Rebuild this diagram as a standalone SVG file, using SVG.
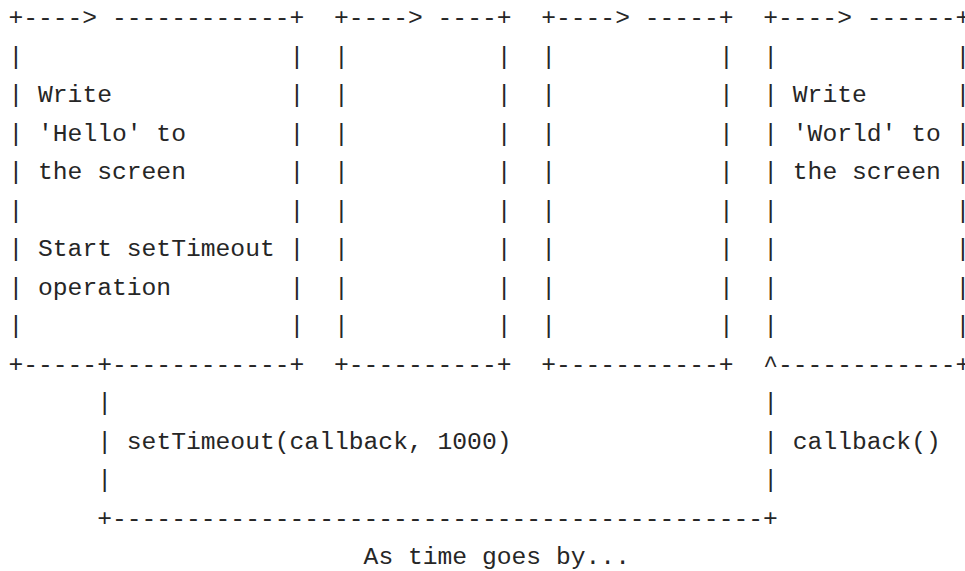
<svg xmlns="http://www.w3.org/2000/svg" width="965" height="571" viewBox="0 0 965 571">
<style>
  .t { font-family: "Liberation Mono", "Cousine", monospace; font-size: 24.66px; fill: #262626; white-space: pre; }
</style>
<rect width="965" height="571" fill="#ffffff"/>
<g id="box-hello">
  <text class="t">
    <tspan x="8.4" y="25">+----&gt; ------------+</tspan>
    <tspan x="8.4" y="63.5">|</tspan><tspan x="289.6" y="63.5">|</tspan>
    <tspan x="8.4" y="102">|</tspan><tspan x="38" y="102">Write</tspan><tspan x="289.6" y="102">|</tspan>
    <tspan x="8.4" y="140.5">|</tspan><tspan x="38" y="140.5">'Hello' to</tspan><tspan x="289.6" y="140.5">|</tspan>
    <tspan x="8.4" y="179">|</tspan><tspan x="38" y="179">the screen</tspan><tspan x="289.6" y="179">|</tspan>
    <tspan x="8.4" y="217.5">|</tspan><tspan x="289.6" y="217.5">|</tspan>
    <tspan x="8.4" y="256">|</tspan><tspan x="38" y="256">Start setTimeout</tspan><tspan x="289.6" y="256">|</tspan>
    <tspan x="8.4" y="294.5">|</tspan><tspan x="38" y="294.5">operation</tspan><tspan x="289.6" y="294.5">|</tspan>
    <tspan x="8.4" y="333">|</tspan><tspan x="289.6" y="333">|</tspan>
    <tspan x="8.4" y="371.5">+-----+------------+</tspan>
  </text>
</g>
<g id="box-empty-1">
  <text class="t">
    <tspan x="334" y="25">+----&gt; ----+</tspan>
    <tspan x="334" y="63.5">|</tspan><tspan x="496.8" y="63.5">|</tspan>
    <tspan x="334" y="102">|</tspan><tspan x="496.8" y="102">|</tspan>
    <tspan x="334" y="140.5">|</tspan><tspan x="496.8" y="140.5">|</tspan>
    <tspan x="334" y="179">|</tspan><tspan x="496.8" y="179">|</tspan>
    <tspan x="334" y="217.5">|</tspan><tspan x="496.8" y="217.5">|</tspan>
    <tspan x="334" y="256">|</tspan><tspan x="496.8" y="256">|</tspan>
    <tspan x="334" y="294.5">|</tspan><tspan x="496.8" y="294.5">|</tspan>
    <tspan x="334" y="333">|</tspan><tspan x="496.8" y="333">|</tspan>
    <tspan x="334" y="371.5">+----------+</tspan>
  </text>
</g>
<g id="box-empty-2">
  <text class="t">
    <tspan x="541.2" y="25">+----&gt; -----+</tspan>
    <tspan x="541.2" y="63.5">|</tspan><tspan x="719" y="63.5">|</tspan>
    <tspan x="541.2" y="102">|</tspan><tspan x="719" y="102">|</tspan>
    <tspan x="541.2" y="140.5">|</tspan><tspan x="719" y="140.5">|</tspan>
    <tspan x="541.2" y="179">|</tspan><tspan x="719" y="179">|</tspan>
    <tspan x="541.2" y="217.5">|</tspan><tspan x="719" y="217.5">|</tspan>
    <tspan x="541.2" y="256">|</tspan><tspan x="719" y="256">|</tspan>
    <tspan x="541.2" y="294.5">|</tspan><tspan x="719" y="294.5">|</tspan>
    <tspan x="541.2" y="333">|</tspan><tspan x="719" y="333">|</tspan>
    <tspan x="541.2" y="371.5">+-----------+</tspan>
  </text>
</g>
<g id="box-world">
  <text class="t">
    <tspan x="763.2" y="25">+----&gt; ------+</tspan>
    <tspan x="763.2" y="63.5">|</tspan><tspan x="955.6" y="63.5">|</tspan>
    <tspan x="763.2" y="102">|</tspan><tspan x="792.8" y="102">Write</tspan><tspan x="955.6" y="102">|</tspan>
    <tspan x="763.2" y="140.5">|</tspan><tspan x="792.8" y="140.5">'World' to</tspan><tspan x="955.6" y="140.5">|</tspan>
    <tspan x="763.2" y="179">|</tspan><tspan x="792.8" y="179">the screen</tspan><tspan x="955.6" y="179">|</tspan>
    <tspan x="763.2" y="217.5">|</tspan><tspan x="955.6" y="217.5">|</tspan>
    <tspan x="763.2" y="256">|</tspan><tspan x="955.6" y="256">|</tspan>
    <tspan x="763.2" y="294.5">|</tspan><tspan x="955.6" y="294.5">|</tspan>
    <tspan x="763.2" y="333">|</tspan><tspan x="955.6" y="333">|</tspan>
    <tspan x="763.2" y="371.5">^------------+</tspan>
  </text>
</g>
<g id="connectors">
  <text class="t">
    <tspan x="97.2" y="410">|</tspan>
    <tspan x="97.2" y="448.5">|</tspan><tspan x="126.8" y="448.5">setTimeout(callback, 1000)</tspan>
    <tspan x="97.2" y="487">|</tspan>
    <tspan x="97.2" y="525.5">+--------------------------------------------+</tspan>
    <tspan x="763.2" y="410">|</tspan>
    <tspan x="763.2" y="448.5">|</tspan><tspan x="792.8" y="448.5">callback()</tspan>
    <tspan x="763.2" y="487">|</tspan>
  </text>
</g>
<g id="caption">
  <text class="t" x="363.6" y="564">As time goes by...</text>
</g>
</svg>
